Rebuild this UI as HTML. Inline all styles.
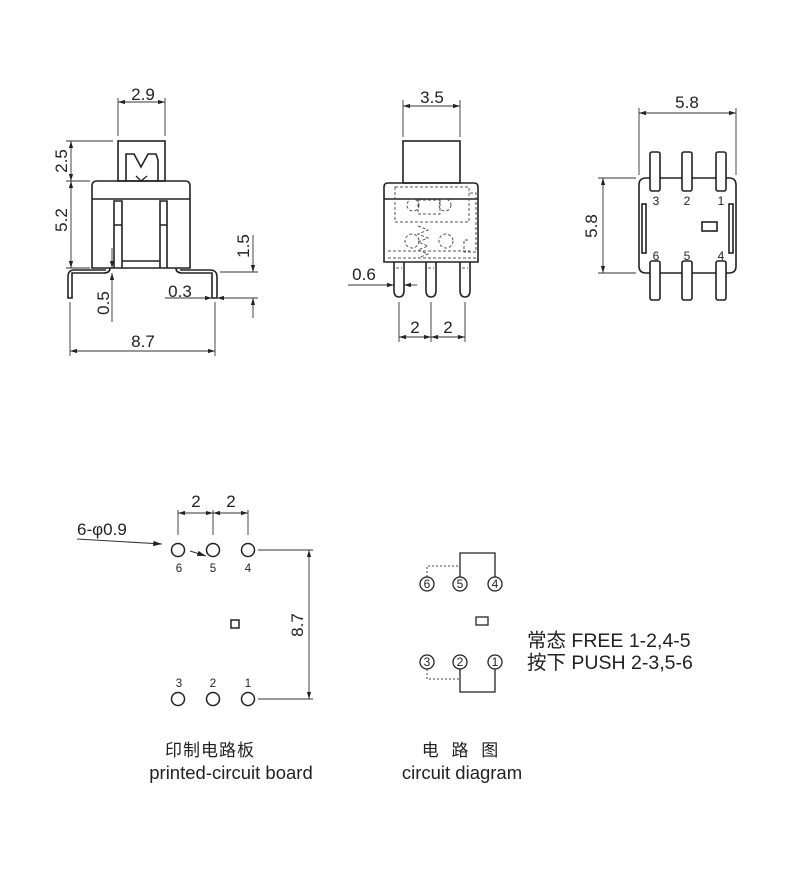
<!DOCTYPE html>
<html><head><meta charset="utf-8"><style>
html,body{margin:0;padding:0;background:#fff}
svg{display:block}
text{font-family:"Liberation Sans","Noto Sans CJK SC",sans-serif;fill:#222}
</style></head><body>
<svg width="800" height="887" viewBox="0 0 800 887" xmlns="http://www.w3.org/2000/svg">
<defs>
<marker id="a" viewBox="0 0 10 6" refX="10" refY="3" markerWidth="8" markerHeight="5" orient="auto-start-reverse"><path d="M0,0L10,3L0,6z" fill="#222"/></marker>
</defs>
<g stroke="#222" fill="none" stroke-width="1.6">
<rect x="118" y="141" width="47" height="40"/>
<path d="M126,181V154H134L141,167L148,154H156L158,160V181"/>
<path d="M136,176L141,181L147,176" stroke-width="1.3"/>
<path d="M92,268V186Q92,181 97,181H185Q190,181 190,186V268Z"/>
<line x1="92" y1="199" x2="190" y2="199"/>
<path d="M114,268V201H122V268M114,225H122M160,268V201H167V268M160,225H167M122,261H160"/>
<path d="M110,268Q110,273 104,273H72V298H68V277Q68,270 74,270H106"/>
<path d="M176,268Q176,273 182,273H212V298H217V277Q217,270 210,270H180"/>
</g>
<g stroke="#333" fill="none" stroke-width="0.9">
<line x1="118" y1="136" x2="118" y2="98"/><line x1="165" y1="136" x2="165" y2="98"/>
<line x1="118" y1="102" x2="165" y2="102" marker-start="url(#a)" marker-end="url(#a)"/>
<line x1="66" y1="141" x2="113" y2="141"/><line x1="66" y1="181" x2="90" y2="181"/><line x1="66" y1="268" x2="90" y2="268"/>
<line x1="71" y1="141" x2="71" y2="181" marker-start="url(#a)" marker-end="url(#a)"/>
<line x1="71" y1="181" x2="71" y2="268" marker-start="url(#a)" marker-end="url(#a)"/>
<line x1="70" y1="302" x2="70" y2="356"/><line x1="215" y1="302" x2="215" y2="356"/>
<line x1="70" y1="351" x2="215" y2="351" marker-start="url(#a)" marker-end="url(#a)"/>
<line x1="220" y1="272" x2="258" y2="272"/><line x1="220" y1="298" x2="258" y2="298"/>
<line x1="253" y1="235" x2="253" y2="272" marker-end="url(#a)"/>
<line x1="253" y1="298" x2="253" y2="318" marker-start="url(#a)"/>
<line x1="165" y1="298" x2="212" y2="298" marker-end="url(#a)"/>
<line x1="217" y1="298" x2="230" y2="298" marker-start="url(#a)"/>
<line x1="112" y1="248" x2="112" y2="268" marker-end="url(#a)"/>
<line x1="112" y1="273" x2="112" y2="322" marker-start="url(#a)"/>
</g>
<g font-size="17">
<text x="143" y="100" text-anchor="middle">2.9</text>
<text transform="translate(67,161) rotate(-90)" text-anchor="middle">2.5</text>
<text transform="translate(67,220) rotate(-90)" text-anchor="middle">5.2</text>
<text transform="translate(249,246) rotate(-90)" text-anchor="middle">1.5</text>
<text transform="translate(109,303) rotate(-90)" text-anchor="middle">0.5</text>
<text x="180" y="297" text-anchor="middle">0.3</text>
<text x="143" y="347" text-anchor="middle">8.7</text>
</g>

<g stroke="#222" fill="none" stroke-width="1.6">
<rect x="403" y="141" width="57" height="42"/>
<path d="M384,262V187Q384,183 388,183H474Q478,183 478,187V262Z"/>
<line x1="384" y1="199" x2="478" y2="199"/>
<path d="M394,262V290Q394,297 399,297Q404,297 404,290V262M426,262V290Q426,297 431,297Q436,297 436,290V262M460,262V290Q460,297 465,297Q470,297 470,290V262"/>
</g>
<g stroke="#555" fill="none" stroke-width="1" stroke-dasharray="3,2">
<rect x="395" y="187" width="74" height="35"/>
<circle cx="413" cy="205" r="6"/><circle cx="445" cy="205" r="6"/>
<rect x="418" y="200" width="22" height="14"/>
<circle cx="412" cy="241" r="7"/><circle cx="446" cy="241" r="7"/>
<path d="M418,226L428,230L418,234L428,238L418,242L428,246L418,250L428,254L418,258"/>
<path d="M470,193H476V252H464V240H470"/>
<path d="M388,251H470M388,258H476"/>
<path d="M396,268H402M428,268H434M462,268H468"/>
</g>
<g stroke="#333" fill="none" stroke-width="0.9">
<line x1="403" y1="137" x2="403" y2="100"/><line x1="460" y1="137" x2="460" y2="100"/>
<line x1="403" y1="106" x2="460" y2="106" marker-start="url(#a)" marker-end="url(#a)"/>
<line x1="348" y1="285" x2="394" y2="285" marker-end="url(#a)"/>
<line x1="404" y1="285" x2="417" y2="285" marker-start="url(#a)"/>
<line x1="399" y1="302" x2="399" y2="342"/><line x1="431" y1="302" x2="431" y2="342"/><line x1="465" y1="302" x2="465" y2="342"/>
<line x1="399" y1="337" x2="431" y2="337" marker-start="url(#a)" marker-end="url(#a)"/>
<line x1="431" y1="337" x2="465" y2="337" marker-start="url(#a)" marker-end="url(#a)"/>
</g>
<g font-size="17">
<text x="432" y="103" text-anchor="middle">3.5</text>
<text x="364" y="280" text-anchor="middle">0.6</text>
<text x="415" y="333" text-anchor="middle">2</text>
<text x="448" y="333" text-anchor="middle">2</text>
</g>

<g stroke="#222" fill="none" stroke-width="1.6">
<path d="M646,178H729Q736,178 736,185V266Q736,273 729,273H646Q639,273 639,266V185Q639,178 646,178Z" fill="#fff"/>
<rect x="642" y="204" width="4" height="49"/><rect x="729" y="204" width="4" height="49"/>
<rect x="702" y="222" width="15" height="9"/>
<g fill="#fff">
<rect x="650" y="152" width="10" height="39" rx="2"/><rect x="682" y="152" width="10" height="39" rx="2"/><rect x="716" y="152" width="10" height="39" rx="2"/>
<rect x="650" y="261" width="10" height="39" rx="2"/><rect x="682" y="261" width="10" height="39" rx="2"/><rect x="716" y="261" width="10" height="39" rx="2"/>
</g>
</g>
<g stroke="#333" fill="none" stroke-width="0.9">
<line x1="639" y1="175" x2="639" y2="108"/><line x1="736" y1="175" x2="736" y2="108"/>
<line x1="639" y1="113" x2="736" y2="113" marker-start="url(#a)" marker-end="url(#a)"/>
<line x1="598" y1="178" x2="636" y2="178"/><line x1="598" y1="273" x2="636" y2="273"/>
<line x1="603" y1="178" x2="603" y2="273" marker-start="url(#a)" marker-end="url(#a)"/>
</g>
<text x="687" y="108" font-size="17" text-anchor="middle">5.8</text>
<text transform="translate(597,226) rotate(-90)" font-size="17" text-anchor="middle">5.8</text>
<g font-size="12" text-anchor="middle">
<text x="656" y="205">3</text><text x="687" y="205">2</text><text x="721" y="205">1</text>
<text x="656" y="260">6</text><text x="687" y="260">5</text><text x="721" y="260">4</text>
</g>

<g stroke="#222" fill="none" stroke-width="1.5">
<circle cx="178" cy="550" r="6.5"/><circle cx="213" cy="550" r="6.5"/><circle cx="248" cy="550" r="6.5"/>
<circle cx="178" cy="699" r="6.5"/><circle cx="213" cy="699" r="6.5"/><circle cx="248" cy="699" r="6.5"/>
<rect x="231" y="620" width="8" height="8"/>
</g>
<g stroke="#333" fill="none" stroke-width="0.9">
<line x1="178" y1="510" x2="178" y2="535"/><line x1="213" y1="510" x2="213" y2="535"/><line x1="248" y1="510" x2="248" y2="535"/>
<line x1="178" y1="513" x2="213" y2="513" marker-start="url(#a)" marker-end="url(#a)"/>
<line x1="213" y1="513" x2="248" y2="513" marker-start="url(#a)" marker-end="url(#a)"/>
<line x1="77" y1="539" x2="162" y2="544" stroke-width="1.1" marker-end="url(#a)"/>
<line x1="190" y1="551" x2="206" y2="556" stroke-width="1.1" marker-end="url(#a)"/>
<line x1="258" y1="550" x2="313" y2="550"/><line x1="258" y1="699" x2="313" y2="699"/>
<line x1="309" y1="550" x2="309" y2="699" marker-start="url(#a)" marker-end="url(#a)"/>
</g>
<g font-size="17">
<text x="196" y="507" text-anchor="middle">2</text>
<text x="231" y="507" text-anchor="middle">2</text>
<text x="77" y="535">6-φ0.9</text>
<text transform="translate(303,625) rotate(-90)" text-anchor="middle">8.7</text>
</g>
<g font-size="11.5" text-anchor="middle">
<text x="179" y="572">6</text><text x="213" y="572">5</text><text x="248" y="572">4</text>
<text x="179" y="687">3</text><text x="213" y="687">2</text><text x="248" y="687">1</text>
</g>

<g stroke="#222" fill="none" stroke-width="1.3">
<path d="M460,577V553H495V577"/>
<path d="M460,669V692H495V669"/>
<rect x="476" y="617" width="12" height="8"/>
</g>
<g stroke="#444" fill="none" stroke-width="1" stroke-dasharray="2,2">
<path d="M427,577V566H460"/><path d="M427,669V679H460"/>
</g>
<g stroke="#222" fill="#fff" stroke-width="1.3">
<circle cx="427" cy="584" r="7"/><circle cx="460" cy="584" r="7"/><circle cx="495" cy="584" r="7"/>
<circle cx="427" cy="662" r="7"/><circle cx="460" cy="662" r="7"/><circle cx="495" cy="662" r="7"/>
</g>
<g font-size="12" text-anchor="middle">
<text x="427" y="588">6</text><text x="460" y="588">5</text><text x="495" y="588">4</text>
<text x="427" y="666">3</text><text x="460" y="666">2</text><text x="495" y="666">1</text>
</g>
<text x="527" y="647" font-size="19.5">常态 FREE 1-2,4-5</text>
<text x="527" y="669" font-size="19.5">按下 PUSH 2-3,5-6</text>

<text x="210" y="756" font-size="17" text-anchor="middle" letter-spacing="1">印制电路板</text>
<text x="231" y="779" font-size="18.5" text-anchor="middle">printed-circuit board</text>
<text x="462" y="756" font-size="17" text-anchor="middle" letter-spacing="4">电 路 图</text>
<text x="462" y="779" font-size="18.5" text-anchor="middle">circuit diagram</text>
</svg>
</body></html>
